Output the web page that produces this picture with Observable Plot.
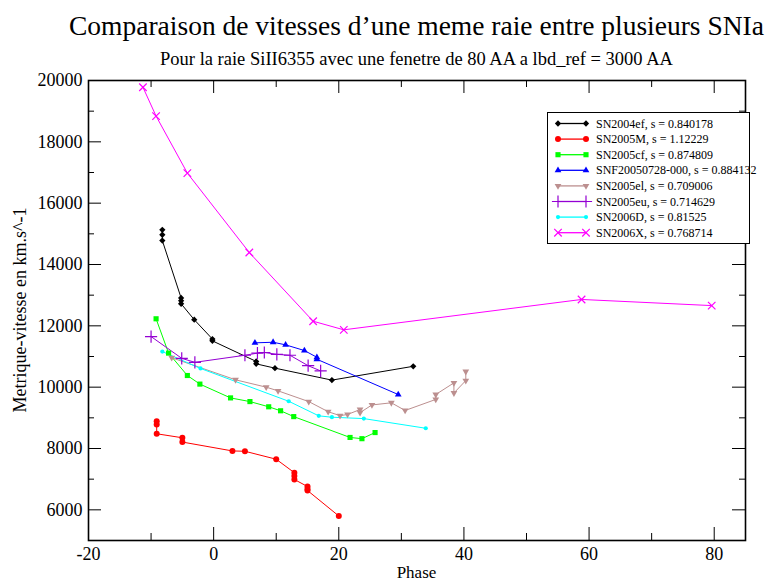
<!DOCTYPE html>
<html><head><meta charset="utf-8">
<script src="https://cdn.jsdelivr.net/npm/d3@7"></script>
<script src="https://cdn.jsdelivr.net/npm/@observablehq/plot@0.6"></script>
<style>body{margin:0;background:#fff} svg{display:block}</style>
</head><body><div id="chart"></div>
<script>
// ---- data ----
const seriesLabels = [
  "SN2004ef, s = 0.840178",
  "SN2005M, s = 1.12229",
  "SN2005cf, s = 0.874809",
  "SNF20050728-000, s = 0.884132",
  "SN2005el, s = 0.709006",
  "SN2005eu, s = 0.714629",
  "SN2006D, s = 0.81525",
  "SN2006X, s = 0.768714"
];
const seriesColors = ["#000000","#ff0000","#00ff00","#0000ff","#bc8f8f","#9400d3","#00ffff","#ff00ff"];

const phase_SN2004ef = [-8.2,-8.2,-8.2,-5.2,-5.2,-5.2,-3.1,-0.2,-0.2,6.8,6.8,9.8,18.9,31.9];
const vel_SN2004ef   = [15130,14970,14780,12910,12820,12720,12200,11570,11510,10840,10760,10620,10230,10680];

const phase_SN2005M = [-9.1,-9.1,-9.1,-5.0,-5.0,3.0,5.0,10.0,12.9,12.9,12.9,15.0,15.0,15.0,20.0];
const vel_SN2005M   = [8890,8780,8480,8350,8210,7920,7910,7650,7210,7100,6990,6760,6680,6630,5800];

const phase_SN2005cf = [-9.2,-7.2,-4.2,-2.2,2.7,5.8,8.8,10.7,12.8,21.8,23.7,25.8];
const vel_SN2005cf   = [12230,11110,10380,10100,9650,9530,9360,9230,9040,8360,8320,8520];

const phase_SNF20050728 = [6.6,9.5,11.5,14.5,16.5,16.5,29.5];
const vel_SNF20050728   = [11445,11465,11380,11195,10975,10910,9760];

const phase_SN2005el = [-6.7,3.5,8.4,10.3,15.2,18.3,20.2,21.4,23.4,23.4,25.3,28.4,30.6,35.5,35.5,38.4,38.4,40.3,40.3];
const vel_SN2005el   = [10960,10240,10000,9880,9530,9200,9070,9110,9270,9170,9420,9490,9240,9600,9760,10140,9810,10215,10510];

const phase_SN2005eu = [-10.0,-5.1,-3.0,5.0,7.0,8.1,10.1,12.2,15.1,17.1];
const vel_SN2005eu   = [11650,10940,10810,11040,11110,11130,11070,11040,10700,10530];

const phase_SN2006D = [-8.2,-2.1,12.0,16.8,18.9,24.0,33.9];
const vel_SN2006D   = [11160,10610,9540,9065,9020,8975,8660];

const phase_SN2006X = [-11.3,-9.2,-4.2,5.7,15.9,20.8,58.8,79.6];
const vel_SN2006X   = [19780,18840,16980,14390,12150,11870,12860,12660];

const xMajorTicks = [-20,0,20,40,60,80];
const xMinorTicks = [-10,10,30,50,70];
const yMajorTicks = [6000,8000,10000,12000,14000,16000,18000,20000];
const yMinorTicks = [5000,7000,9000,11000,13000,15000,17000,19000];

// ---- build ----
const triangleDown = {
  draw(context, size) {
    const y = -Math.sqrt(size / (Math.sqrt(3) * 3));
    context.moveTo(0, -y * 2);
    context.lineTo(-Math.sqrt(3) * y, y);
    context.lineTo(Math.sqrt(3) * y, y);
    context.closePath();
  }
};
const rhombus = {
  draw(context, size) {
    const a = Math.sqrt(size / 2);
    context.moveTo(0, -a);
    context.lineTo(a, 0);
    context.lineTo(0, a);
    context.lineTo(-a, 0);
    context.closePath();
  }
};
const phases = [phase_SN2004ef, phase_SN2005M, phase_SN2005cf, phase_SNF20050728, phase_SN2005el, phase_SN2005eu, phase_SN2006D, phase_SN2006X];
const vels   = [vel_SN2004ef, vel_SN2005M, vel_SN2005cf, vel_SNF20050728, vel_SN2005el, vel_SN2005eu, vel_SN2006D, vel_SN2006X];
const markerSpec = [
  {symbol: rhombus, r: 2.5, filled: true},
  {symbol: "circle", r: 3, filled: true},
  {symbol: "square", r: 2.9, filled: true},
  {symbol: "triangle", r: 2.5, filled: true},
  {symbol: triangleDown, r: 2.5, filled: true},
  {symbol: "plus", r: 4, filled: false},
  {symbol: "circle", r: 2.1, filled: true},
  {symbol: "times", r: 3.5, filled: false}
];
const series = seriesLabels.map((label, i) => ({
  label, color: seriesColors[i], spec: markerSpec[i],
  data: phases[i].map((p, j) => ({phase: p, vel: vels[i][j]}))
}));

const W = 767, H = 581, mL = 88, mR = 22, mT = 80, mB = 41;
const fw = W - mL - mR, fh = H - mT - mB;
const font = "Liberation Serif";

const marks = [];
for (const s of series) {
  marks.push(Plot.line(s.data, {x: "phase", y: "vel", stroke: s.color, strokeWidth: 1}));
}
for (const s of series) {
  marks.push(Plot.dot(s.data, s.spec.filled
    ? {x: "phase", y: "vel", symbol: s.spec.symbol, r: s.spec.r, fill: s.color, stroke: "none"}
    : {x: "phase", y: "vel", symbol: s.spec.symbol, r: s.spec.r, stroke: s.color, fill: "none", strokeWidth: 1.2}));
}
// inward ticks (bottom/top/left/right)
marks.push(
  Plot.tickX(xMajorTicks, {x: d => d, insetTop: fh - 13, stroke: "black"}),
  Plot.tickX(xMinorTicks, {x: d => d, insetTop: fh - 7, stroke: "black"}),
  Plot.tickX(xMajorTicks, {x: d => d, insetBottom: fh - 13, stroke: "black"}),
  Plot.tickX(xMinorTicks, {x: d => d, insetBottom: fh - 7, stroke: "black"}),
  Plot.tickY(yMajorTicks, {y: d => d, insetRight: fw - 13, stroke: "black"}),
  Plot.tickY(yMinorTicks, {y: d => d, insetRight: fw - 6, stroke: "black"}),
  Plot.tickY(yMajorTicks, {y: d => d, insetLeft: fw - 13, stroke: "black"}),
  Plot.tickY(yMinorTicks, {y: d => d, insetLeft: fw - 6, stroke: "black"}),
  Plot.axisX({ticks: xMajorTicks, tickSize: 0, tickPadding: 7, tickFormat: d => String(d), label: null, fontSize: 18, fontFamily: font}),
  Plot.axisY({ticks: yMajorTicks, tickSize: 0, tickPadding: 6, tickFormat: d => String(d), label: null, fontSize: 18, fontFamily: font}),
  Plot.frame({stroke: "black", strokeWidth: 1.6})
);

const plot = Plot.plot({
  width: W, height: H,
  marginLeft: mL, marginRight: mR, marginTop: mT, marginBottom: mB,
  x: {domain: [-20, 85]},
  y: {domain: [5000, 20000]},
  style: {fontFamily: font, fontSize: "18px", color: "black", background: "white"},
  marks
});

const svg = d3.select(plot);
const cx = mL + fw / 2;
svg.append("text").attr("x", cx).attr("y", 35).attr("text-anchor", "middle")
  .attr("font-family", font).attr("font-size", 27.5).attr("fill", "black")
  .text("Comparaison de vitesses d\u2019une meme raie entre plusieurs SNIa");
svg.append("text").attr("x", cx).attr("y", 65).attr("text-anchor", "middle")
  .attr("font-family", font).attr("font-size", 18.5).attr("fill", "black")
  .text("Pour la raie SiII6355 avec une fenetre de 80 AA a lbd_ref = 3000 AA");
svg.append("text").attr("x", cx).attr("y", 578).attr("text-anchor", "middle")
  .attr("font-family", font).attr("font-size", 17).attr("fill", "black")
  .text("Phase");
svg.append("text").attr("transform", `translate(26,${mT + fh / 2}) rotate(-90)`).attr("text-anchor", "middle")
  .attr("font-family", font).attr("font-size", 18).attr("fill", "black")
  .text("Metrique-vitesse en km.s^-1");

// legend
const lg = svg.append("g").attr("font-family", font).attr("font-size", 12).attr("text-anchor", "start");
const lx = 547.5, ly = 112.5, lw = 202, lh = 131, rowH = 15.6;
lg.append("rect").attr("x", lx).attr("y", ly).attr("width", lw).attr("height", lh)
  .attr("fill", "white").attr("stroke", "black").attr("stroke-width", 1);
const d3sym = {circle: d3.symbolCircle, square: d3.symbolSquare,
  triangle: d3.symbolTriangle, plus: d3.symbolPlus, times: d3.symbolTimes};
series.forEach((s, i) => {
  const y = ly + 11 + i * rowH;
  lg.append("line").attr("x1", 558).attr("x2", 586).attr("y1", y).attr("y2", y)
    .attr("stroke", s.color).attr("stroke-width", 1.3);
  const symType = typeof s.spec.symbol === "string" ? d3sym[s.spec.symbol] : s.spec.symbol;
  const path = d3.symbol(symType, Math.PI * s.spec.r * s.spec.r)();
  for (const mx of [558, 586]) {
    const p = lg.append("path").attr("d", path).attr("transform", `translate(${mx},${y})`);
    if (s.spec.filled) p.attr("fill", s.color); else p.attr("fill", "none").attr("stroke", s.color).attr("stroke-width", 1.2);
  }
  lg.append("text").attr("x", 596).attr("y", y + 4).attr("fill", "black").attr("text-anchor", "start").text(s.label);
});

document.getElementById("chart").appendChild(plot);
</script>
</body></html>
